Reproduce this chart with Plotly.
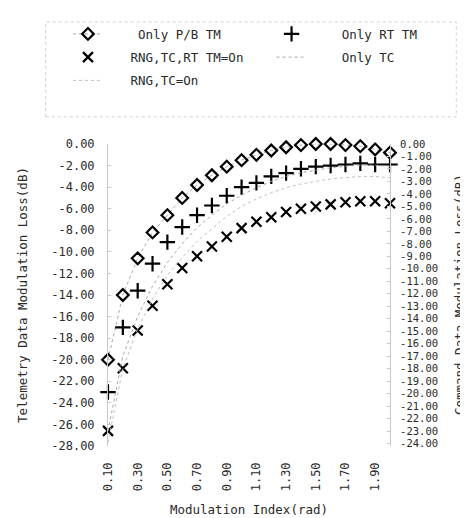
import plotly.graph_objects as go

# ---------------- data ----------------
mod_index = [0.1, 0.2, 0.3, 0.4, 0.5, 0.6, 0.7, 0.8, 0.9, 1.0,
             1.1, 1.2, 1.3, 1.4, 1.5, 1.6, 1.7, 1.8, 1.9, 2.0]

only_pb_tm = [-20.0, -14.0, -10.6, -8.2, -6.6, -5.0, -3.8, -2.9, -2.1, -1.5,
              -1.0, -0.6, -0.3, -0.1, 0.0, 0.0, -0.1, -0.2, -0.5, -0.8]

only_rt_tm = [-23.0, -17.0, -13.6, -11.1, -9.1, -7.7, -6.6, -5.7, -4.8, -4.0,
              -3.6, -3.0, -2.7, -2.3, -2.1, -2.0, -1.9, -1.8, -1.9, -1.9]

rng_tc_rt_on = [-26.6, -20.8, -17.3, -15.0, -13.0, -11.5, -10.4, -9.5, -8.6, -7.8,
                -7.2, -6.8, -6.3, -6.0, -5.8, -5.6, -5.4, -5.3, -5.3, -5.5]

only_tc = [-23.0, -17.0, -13.8, -11.4, -9.5, -8.0, -6.7, -5.7, -4.8, -4.1,
           -3.5, -3.0, -2.6, -2.3, -2.1, -1.9, -1.8, -1.7, -1.7, -1.8]

rng_tc_on = [-23.9, -18.0, -14.8, -12.4, -10.5, -9.1, -7.8, -6.8, -5.8, -5.0,
             -4.4, -3.9, -3.5, -3.2, -3.0, -2.8, -2.7, -2.6, -2.6, -2.7]

x_tick_vals = [0.1, 0.3, 0.5, 0.7, 0.9, 1.1, 1.3, 1.5, 1.7, 1.9]
x_tick_text = ["0.10", "0.30", "0.50", "0.70", "0.90", "1.10", "1.30", "1.50", "1.70", "1.90"]

left_tick_vals = [0, -2, -4, -6, -8, -10, -12, -14, -16, -18, -20, -22, -24, -26, -28]
left_tick_text = ["0.00", "-2.00", "-4.00", "-6.00", "-8.00", "-10.00", "-12.00", "-14.00",
                  "-16.00", "-18.00", "-20.00", "-22.00", "-24.00", "-26.00", "-28.00"]

right_tick_vals = [0, -1, -2, -3, -4, -5, -6, -7, -8, -9, -10, -11, -12,
                   -13, -14, -15, -16, -17, -18, -19, -20, -21, -22, -23, -24]
right_tick_text = ["0.00", "-1.00", "-2.00", "-3.00", "-4.00", "-5.00", "-6.00", "-7.00",
                   "-8.00", "-9.00", "-10.00", "-11.00", "-12.00", "-13.00", "-14.00",
                   "-15.00", "-16.00", "-17.00", "-18.00", "-19.00", "-20.00", "-21.00",
                   "-22.00", "-23.00", "-24.00"]

# ---------------- figure ----------------
FONT = "DejaVu Sans Mono"
TXT = "#2a2a2a"
NB = "\u00a0"
fig = go.Figure()

fig.add_trace(go.Scatter(
    x=mod_index, y=only_pb_tm, name=NB * 4 + "Only P/B TM",
    mode="lines+markers", cliponaxis=False,
    marker=dict(symbol="diamond-open", size=9, color="black", line=dict(width=2.2, color="black")),
    line=dict(color="#a8a8a8", width=1, dash="dot"),
    legend="legend", legendgroup="a"))

fig.add_trace(go.Scatter(
    x=mod_index, y=rng_tc_rt_on, name=NB * 3 + "RNG,TC,RT TM=On",
    mode="markers", cliponaxis=False,
    marker=dict(symbol="x-thin-open", size=10, color="black", line=dict(width=2.2, color="black")),
    legend="legend", legendgroup="b"))

fig.add_trace(go.Scatter(
    x=mod_index, y=rng_tc_on, name=NB * 3 + "RNG,TC=On", yaxis="y2",
    mode="lines", cliponaxis=False,
    line=dict(color="#c0c0c0", width=1, dash="dot"),
    legend="legend", legendgroup="c"))

fig.add_trace(go.Scatter(
    x=mod_index, y=only_rt_tm, name=NB * 4 + "Only RT TM",
    mode="markers", cliponaxis=False,
    marker=dict(symbol="cross-thin-open", size=11, color="black", line=dict(width=2.2, color="black")),
    legend="legend2", legendgroup="d"))

fig.add_trace(go.Scatter(
    x=mod_index, y=only_tc, name=NB * 4 + "Only TC", yaxis="y2",
    mode="lines", cliponaxis=False,
    line=dict(color="#a8a8a8", width=1, dash="dot"),
    legend="legend2", legendgroup="e"))

tick_font = dict(family=FONT, size=12, color=TXT)
right_tick_font = dict(family=FONT, size=10.5, color=TXT)
title_font = dict(family=FONT, size=12.5, color=TXT)

fig.update_layout(
    width=468, height=518,
    margin=dict(l=100, r=86, t=131, b=75),
    paper_bgcolor="white", plot_bgcolor="white",
    font=dict(family=FONT, size=12, color=TXT),
    xaxis=dict(
        range=[0.1, 2.0], tickvals=x_tick_vals, ticktext=x_tick_text,
        tickangle=-90, tickfont=tick_font, showgrid=False, zeroline=False,
        showline=False, ticks="", ticklabelstandoff=13,
        title=dict(text="Modulation Index(rad)", font=title_font, standoff=14)),
    yaxis=dict(
        range=[-28, 0], tickvals=left_tick_vals, ticktext=left_tick_text,
        tickfont=tick_font, showgrid=False, zeroline=False,
        showline=True, linecolor="#c8c8c8", linewidth=1,
        ticks="inside", ticklen=3, tickcolor="#c8c8c8", ticklabelstandoff=10,
        title=dict(text="Telemetry Data Modulation Loss(dB)", font=title_font, standoff=20)),
    yaxis2=dict(
        range=[-24.2, 0], overlaying="y", side="right",
        tickvals=right_tick_vals, ticktext=right_tick_text,
        tickfont=right_tick_font, showgrid=False, zeroline=False,
        showline=True, linecolor="#c8c8c8", linewidth=1,
        ticks="inside", ticklen=3, tickcolor="#c8c8c8", ticklabelstandoff=7),
    legend=dict(x=-0.142, y=1.413, xanchor="left", yanchor="top",
                bgcolor="rgba(0,0,0,0)", font=dict(family=FONT, size=12.5, color=TXT),
                tracegroupgap=4, itemwidth=30),
    legend2=dict(x=0.58, y=1.413, xanchor="left", yanchor="top",
                 bgcolor="rgba(0,0,0,0)", font=dict(family=FONT, size=12.5, color=TXT),
                 tracegroupgap=4, itemwidth=30),
    annotations=[dict(text="Command Data Modulation Loss(dB)", xref="paper", yref="paper",
                      x=1.245, y=0.5, xanchor="center", yanchor="middle",
                      textangle=-90, showarrow=False, font=title_font)],
    shapes=[dict(type="rect", xref="paper", yref="paper",
                 x0=-0.221, x1=1.235, y0=1.09, y1=1.404,
                 line=dict(color="#cfcfcf", width=1, dash="dot"))],
)

fig.write_html("out.html")
